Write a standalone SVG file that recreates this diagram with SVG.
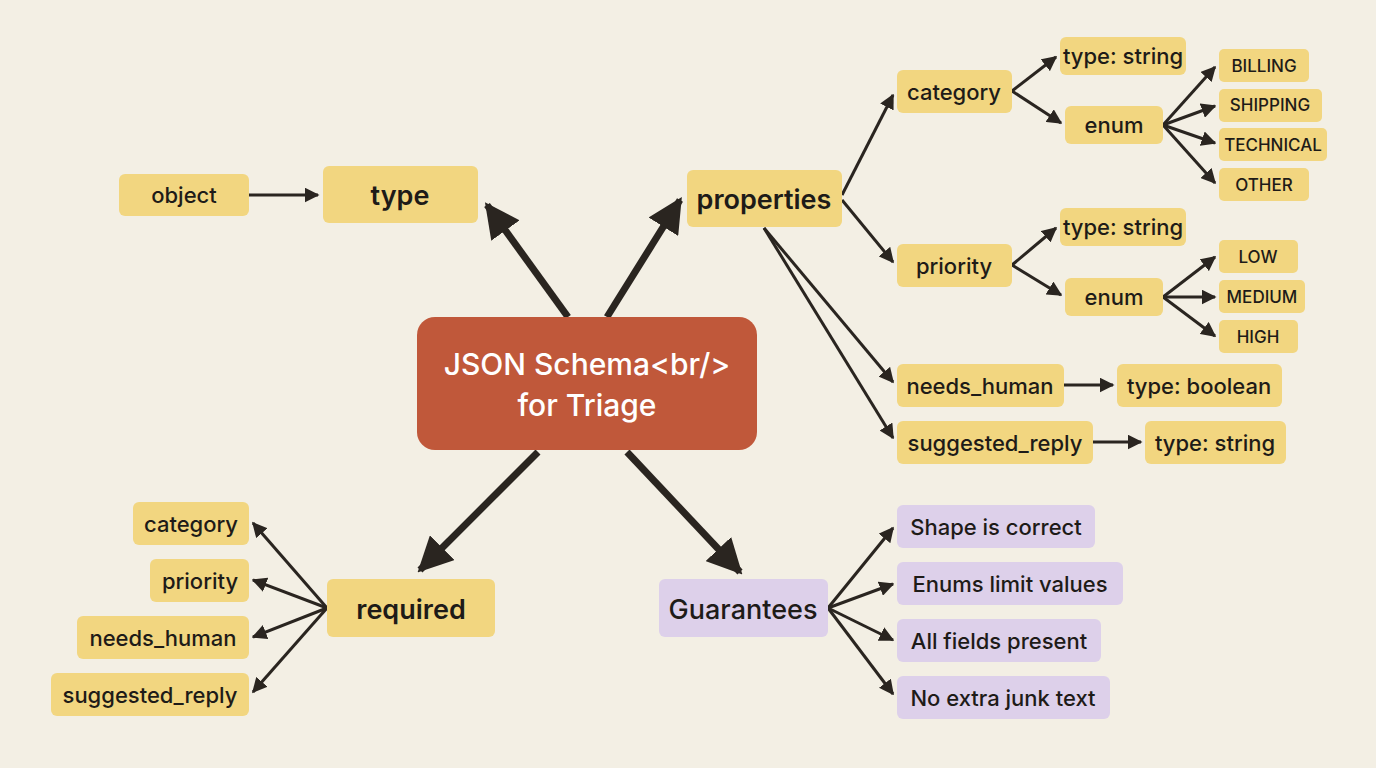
<svg xmlns="http://www.w3.org/2000/svg" width="1376" height="768" viewBox="0 0 1376 768">
<defs>
<marker id="a" viewBox="0 0 10 10" refX="9" refY="5" markerWidth="5" markerHeight="5" orient="auto"><path d="M0,0 L10,5 L0,10 z" fill="#2a2520"/></marker>
<marker id="b" viewBox="0 0 10 10" refX="9" refY="5" markerWidth="5" markerHeight="5" orient="auto"><path d="M0,0 L10,5 L0,10 z" fill="#2a2520"/></marker>
<style>
.y{fill:#f2d680}.p{fill:#ddd0ea}
text{font-family:Inter,"Noto Sans",sans-serif;fill:#1e1b18;text-anchor:middle;dominant-baseline:central;font-weight:500}
.s{font-size:22px}.m{font-size:22px}.l{font-size:27px;font-weight:600}.t{font-size:17px}
.c line,.c path{stroke:#2a2520;fill:none}
.th{stroke-width:7;marker-end:url(#b)}
.tn{stroke-width:3;marker-end:url(#a)}
</style>
</defs>
<rect width="1376" height="768" fill="#f3efe4"/>
<g class="c">
<line class="th" x1="568" y1="317" x2="487" y2="205"/>
<line class="th" x1="607" y1="317" x2="680" y2="200"/>
<line class="th" x1="538" y1="452" x2="420" y2="570"/>
<line class="th" x1="627" y1="452" x2="740" y2="572"/>
<line class="tn" x1="249" y1="195" x2="318" y2="195"/>
<line class="tn" x1="842" y1="195" x2="893" y2="95"/>
<line class="tn" x1="842" y1="200" x2="893" y2="262"/>
<line class="tn" x1="764" y1="228" x2="893" y2="382"/>
<line class="tn" x1="764" y1="228" x2="893" y2="438"/>
<line class="tn" x1="1012" y1="91" x2="1056" y2="57"/>
<line class="tn" x1="1012" y1="91" x2="1061" y2="123"/>
<line class="tn" x1="1163" y1="125" x2="1215" y2="67"/>
<line class="tn" x1="1163" y1="125" x2="1215" y2="106"/>
<line class="tn" x1="1163" y1="125" x2="1215" y2="143"/>
<line class="tn" x1="1163" y1="125" x2="1215" y2="183"/>
<line class="tn" x1="1012" y1="265" x2="1056" y2="228"/>
<line class="tn" x1="1012" y1="265" x2="1061" y2="295"/>
<line class="tn" x1="1163" y1="297" x2="1215" y2="257"/>
<line class="tn" x1="1163" y1="297" x2="1215" y2="297"/>
<line class="tn" x1="1163" y1="297" x2="1215" y2="336"/>
<line class="tn" x1="1064" y1="385" x2="1113" y2="385"/>
<line class="tn" x1="1093" y1="442" x2="1141" y2="442"/>
<line class="tn" x1="327" y1="608" x2="253" y2="523"/>
<line class="tn" x1="327" y1="608" x2="253" y2="580"/>
<line class="tn" x1="327" y1="608" x2="253" y2="637"/>
<line class="tn" x1="327" y1="608" x2="253" y2="692"/>
<line class="tn" x1="828" y1="608" x2="893" y2="528"/>
<line class="tn" x1="828" y1="608" x2="893" y2="584"/>
<line class="tn" x1="828" y1="608" x2="893" y2="640"/>
<line class="tn" x1="828" y1="608" x2="893" y2="694"/>
</g>
<g id="center"><rect x="417" y="317" width="340" height="133" rx="18" fill="#c0583a"/><text x="587" y="364" font-size="30" style="fill:#fff">JSON Schema&lt;br/&gt;</text><text x="587" y="405" font-size="30" style="fill:#fff">for Triage</text></g>
<g id="type"><rect class="y" x="323" y="166" width="155" height="57" rx="6"/><text class="l" x="400" y="195">type</text></g>
<g id="object"><rect class="y" x="119" y="174" width="130" height="42" rx="6"/><text class="s" x="184" y="195">object</text></g>
<g id="properties"><rect class="y" x="687" y="170" width="155" height="57" rx="6"/><text class="l" x="764" y="199">properties</text></g>
<g id="category"><rect class="y" x="897" y="70" width="115" height="43" rx="6"/><text class="m" x="954" y="92">category</text></g>
<g id="ts1"><rect class="y" x="1060" y="37" width="126" height="38" rx="6"/><text class="s" x="1123" y="56">type: string</text></g>
<g id="enum1"><rect class="y" x="1065" y="106" width="98" height="38" rx="6"/><text class="s" x="1114" y="125">enum</text></g>
<g id="billing"><rect class="y" x="1219" y="49" width="90" height="33" rx="5"/><text class="t" x="1264" y="66">BILLING</text></g>
<g id="shipping"><rect class="y" x="1219" y="89" width="103" height="33" rx="5"/><text class="t" x="1270" y="105">SHIPPING</text></g>
<g id="technical"><rect class="y" x="1219" y="128" width="108" height="33" rx="5"/><text class="t" x="1273" y="145">TECHNICAL</text></g>
<g id="other"><rect class="y" x="1219" y="168" width="90" height="33" rx="5"/><text class="t" x="1264" y="185">OTHER</text></g>
<g id="priority"><rect class="y" x="897" y="244" width="115" height="43" rx="6"/><text class="m" x="954" y="266">priority</text></g>
<g id="ts2"><rect class="y" x="1060" y="208" width="126" height="38" rx="6"/><text class="s" x="1123" y="227">type: string</text></g>
<g id="enum2"><rect class="y" x="1065" y="278" width="98" height="38" rx="6"/><text class="s" x="1114" y="297">enum</text></g>
<g id="low"><rect class="y" x="1219" y="240" width="79" height="33" rx="5"/><text class="t" x="1258" y="257">LOW</text></g>
<g id="medium"><rect class="y" x="1219" y="280" width="86" height="33" rx="5"/><text class="t" x="1262" y="297">MEDIUM</text></g>
<g id="high"><rect class="y" x="1219" y="320" width="79" height="33" rx="5"/><text class="t" x="1258" y="337">HIGH</text></g>
<g id="needs_human"><rect class="y" x="897" y="364" width="167" height="43" rx="6"/><text class="m" x="980" y="386">needs_human</text></g>
<g id="tb"><rect class="y" x="1117" y="364" width="165" height="43" rx="6"/><text class="m" x="1199" y="386">type: boolean</text></g>
<g id="suggested_reply"><rect class="y" x="897" y="421" width="196" height="43" rx="6"/><text class="m" x="995" y="443">suggested_reply</text></g>
<g id="ts3"><rect class="y" x="1145" y="421" width="141" height="43" rx="6"/><text class="m" x="1215" y="443">type: string</text></g>
<g id="required"><rect class="y" x="327" y="579" width="168" height="58" rx="6"/><text class="l" x="411" y="609">required</text></g>
<g id="r1"><rect class="y" x="133" y="502" width="116" height="43" rx="6"/><text class="m" x="191" y="524">category</text></g>
<g id="r2"><rect class="y" x="150" y="559" width="99" height="43" rx="6"/><text class="m" x="200" y="581">priority</text></g>
<g id="r3"><rect class="y" x="77" y="616" width="172" height="43" rx="6"/><text class="m" x="163" y="638">needs_human</text></g>
<g id="r4"><rect class="y" x="51" y="673" width="198" height="43" rx="6"/><text class="m" x="150" y="695">suggested_reply</text></g>
<g id="guarantees"><rect class="p" x="659" y="579" width="169" height="58" rx="6"/><text class="l" x="743" y="609" font-size="26" style="font-weight:500">Guarantees</text></g>
<g id="g1"><rect class="p" x="897" y="505" width="198" height="43" rx="6"/><text class="m" x="996" y="527">Shape is correct</text></g>
<g id="g2"><rect class="p" x="897" y="562" width="226" height="43" rx="6"/><text class="m" x="1010" y="584">Enums limit values</text></g>
<g id="g3"><rect class="p" x="897" y="619" width="204" height="43" rx="6"/><text class="m" x="999" y="641">All fields present</text></g>
<g id="g4"><rect class="p" x="897" y="676" width="213" height="43" rx="6"/><text class="m" x="1003" y="698">No extra junk text</text></g>
</svg>
